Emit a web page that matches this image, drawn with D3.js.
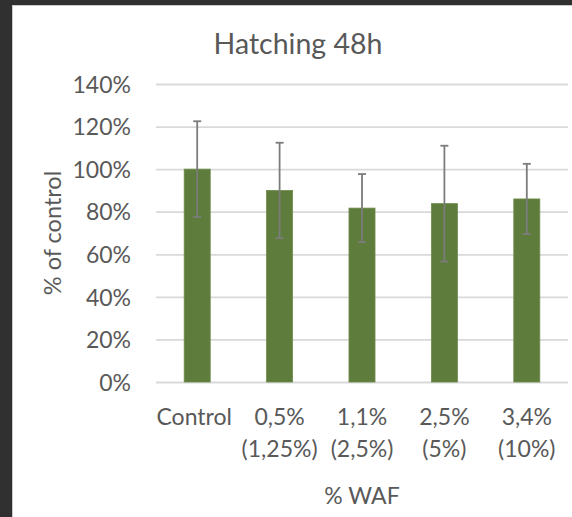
<!DOCTYPE html>
<html>
<head>
<meta charset="utf-8">
<script src="https://cdn.jsdelivr.net/npm/d3@7"></script>
<style>
  html, body { margin: 0; padding: 0; background: #303030; }
  svg { display: block; }
</style>
</head>
<body>
<svg id="chart" width="572" height="517"></svg>
<script>
// Hatching success after 48h, relative to control
const categories = ["Control", "0,5%\n(1,25%)", "1,1%\n(2,5%)", "2,5%\n(5%)", "3,4%\n(10%)"];
const hatchingMean = [100, 90, 81.7, 83.8, 86];
const hatchingSD = [22.5, 22.4, 16, 27.2, 16.5];
const yTicks = [0, 20, 40, 60, 80, 100, 120, 140];

const W = 572, H = 517;
const margin = { top: 84, right: 4, bottom: 135, left: 156 };
const textColor = "#595959";
const fontFamily = "Lato, 'Open Sans', sans-serif";

const svg = d3.select("#chart");

// white chart area with a thin frame line
svg.append("rect").attr("x", 12).attr("y", 5).attr("width", W - 12).attr("height", H - 5)
  .attr("fill", "#c9c9c9");
svg.append("rect").attr("x", 13).attr("y", 6).attr("width", W - 13).attr("height", H - 6)
  .attr("fill", "#ffffff");

const data = categories.map((c, i) => ({ cat: c, mean: hatchingMean[i], sd: hatchingSD[i] }));

const x = d3.scaleBand()
  .domain(categories)
  .range([margin.left, W - margin.right])
  .paddingInner(0.684)
  .paddingOuter(0.342);

const y = d3.scaleLinear()
  .domain([0, 140])
  .range([H - margin.bottom, margin.top]);

// gridlines + y tick labels
const yAxis = d3.axisLeft(y)
  .tickValues(yTicks)
  .tickSize(-(W - margin.right - margin.left))
  .tickPadding(25)
  .tickFormat(d => d + "%");

const gy = svg.append("g")
  .attr("transform", `translate(${margin.left},0)`)
  .call(yAxis);
gy.select(".domain").remove();
gy.selectAll(".tick line").attr("stroke", "#d9d9d9").attr("stroke-width", 1.8);
gy.selectAll(".tick text")
  .attr("fill", textColor)
  .attr("font-family", fontFamily)
  .attr("font-size", 23)
  .attr("dy", "0.36em");

// bars
svg.append("g").selectAll("rect")
  .data(data)
  .join("rect")
  .attr("x", d => x(d.cat))
  .attr("y", d => y(d.mean))
  .attr("width", x.bandwidth())
  .attr("height", d => y(0) - y(d.mean))
  .attr("fill", "#5e7c3b")
  .attr("stroke", "#6f8c4c")
  .attr("stroke-width", 0.8);

// error bars
const capHalf = 4;
const eb = svg.append("g").attr("stroke", "#7c7c7c").attr("stroke-width", 1.8);
data.forEach(d => {
  const cx = x(d.cat) + x.bandwidth() / 2;
  const y1 = y(d.mean + d.sd), y0 = y(d.mean - d.sd);
  eb.append("line").attr("x1", cx).attr("x2", cx).attr("y1", y1).attr("y2", y0);
  eb.append("line").attr("x1", cx - capHalf).attr("x2", cx + capHalf).attr("y1", y1).attr("y2", y1);
  eb.append("line").attr("x1", cx - capHalf).attr("x2", cx + capHalf).attr("y1", y0).attr("y2", y0);
});

// x axis category labels (two lines)
const xAxis = d3.axisBottom(x).tickSize(0).tickFormat("");
const gx = svg.append("g")
  .attr("transform", `translate(0,${y(0)})`)
  .call(xAxis);
gx.select(".domain").remove();
gx.selectAll(".tick").each(function(d) {
  const lines = d.split("\n");
  const t = d3.select(this).append("text")
    .attr("fill", textColor)
    .attr("font-family", fontFamily)
    .attr("font-size", 23)
    .attr("text-anchor", "middle");
  lines.forEach((ln, i) => {
    t.append("tspan").attr("x", d === "Control" ? -3 : 0).attr("y", 43 + i * 32).text(ln);
  });
});

// axis titles
svg.append("text")
  .attr("x", (margin.left + W - margin.right) / 2)
  .attr("y", 504)
  .attr("text-anchor", "middle")
  .attr("fill", textColor)
  .attr("font-family", fontFamily)
  .attr("font-size", 23)
  .text("% WAF");

svg.append("text")
  .attr("transform", `translate(61,${(margin.top + H - margin.bottom) / 2}) rotate(-90)`)
  .attr("text-anchor", "middle")
  .attr("fill", textColor)
  .attr("font-family", fontFamily)
  .attr("font-size", 23.5)
  .text("% of control");

// chart title
svg.append("text")
  .attr("x", 298)
  .attr("y", 54)
  .attr("text-anchor", "middle")
  .attr("fill", textColor)
  .attr("font-family", fontFamily)
  .attr("font-size", 28.5)
  .text("Hatching 48h");
</script>
</body>
</html>
